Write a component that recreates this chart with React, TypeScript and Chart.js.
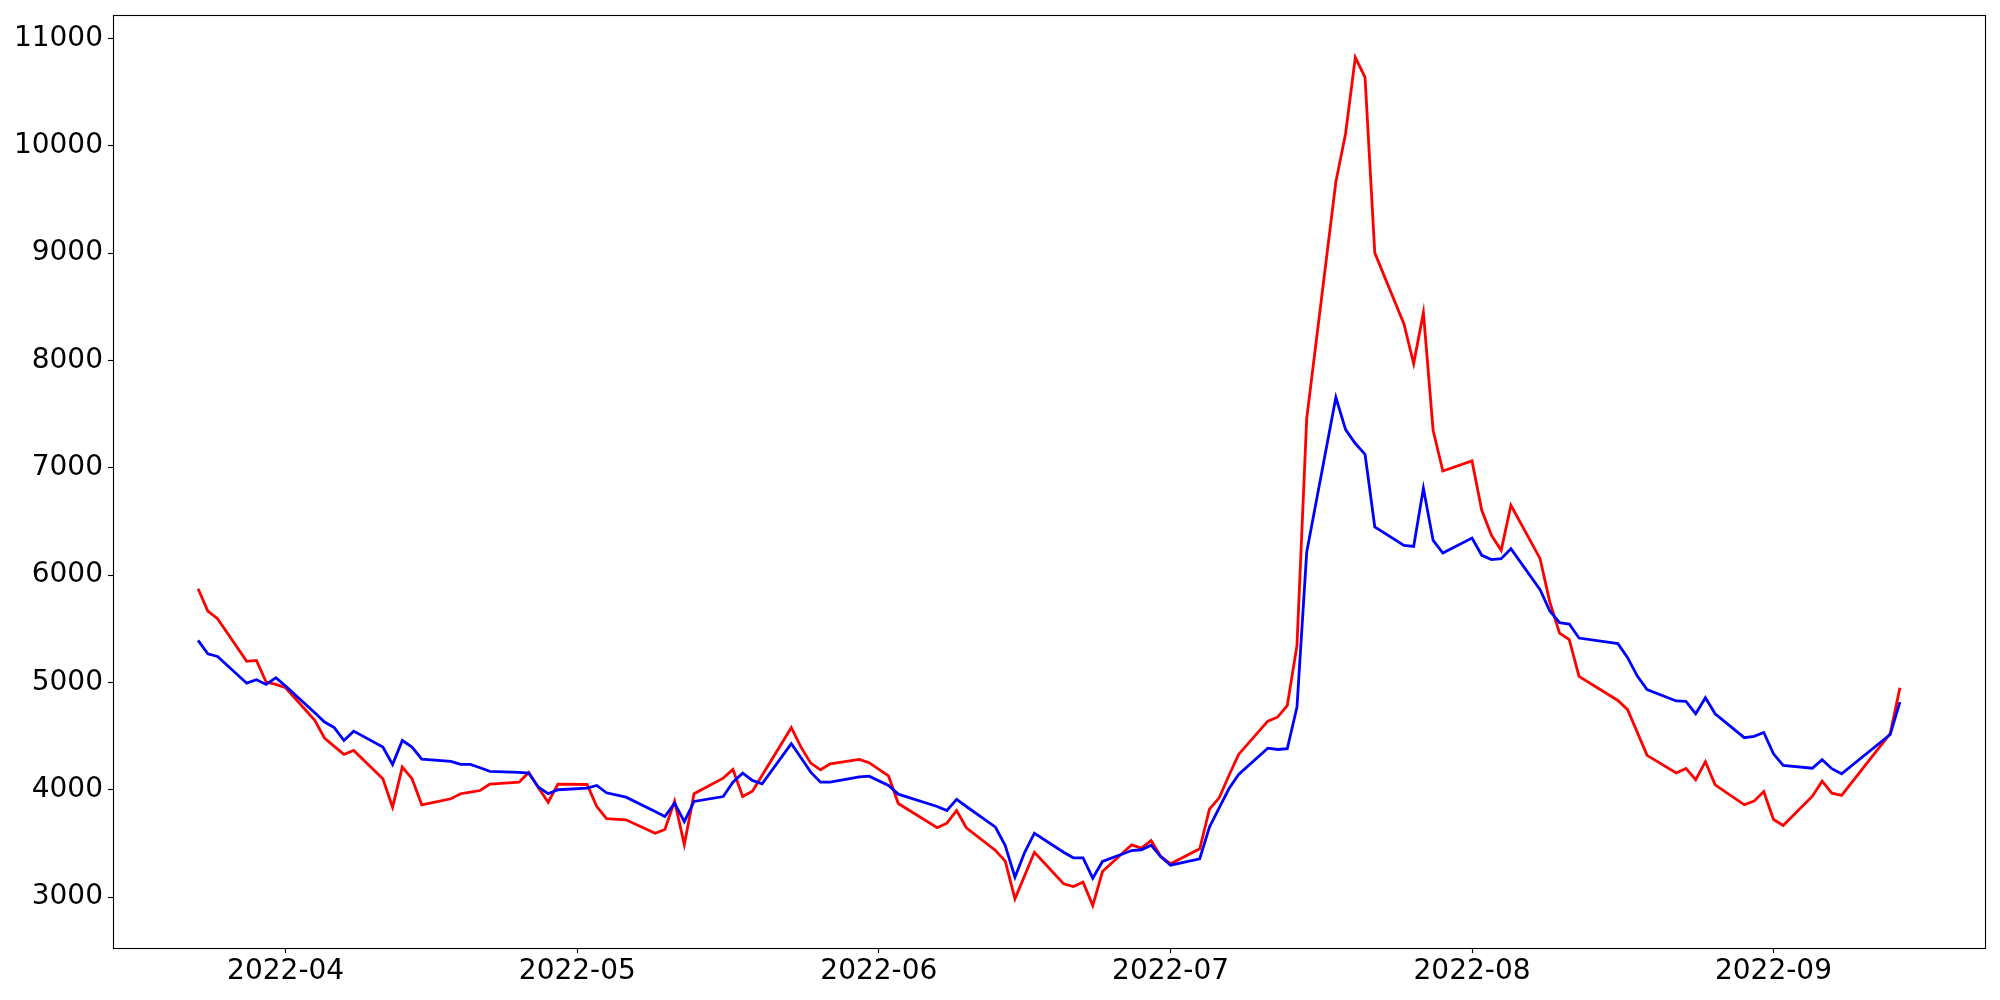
import React, { useEffect, useRef } from "react";
import { Chart, registerables } from "chart.js";

Chart.register(...registerables);

const dates: string[] = [
  "2022-03-23", "2022-03-24", "2022-03-25", "2022-03-28", "2022-03-29", "2022-03-30", "2022-03-31",
  "2022-04-01", "2022-04-04", "2022-04-05", "2022-04-06", "2022-04-07", "2022-04-08", "2022-04-11",
  "2022-04-12", "2022-04-13", "2022-04-14", "2022-04-15", "2022-04-18", "2022-04-19", "2022-04-20",
  "2022-04-21", "2022-04-22", "2022-04-25", "2022-04-26", "2022-04-27", "2022-04-28", "2022-04-29",
  "2022-05-02", "2022-05-03", "2022-05-04", "2022-05-06", "2022-05-09", "2022-05-10", "2022-05-11",
  "2022-05-12", "2022-05-13", "2022-05-16", "2022-05-17", "2022-05-18", "2022-05-19", "2022-05-20",
  "2022-05-23", "2022-05-24", "2022-05-25", "2022-05-26", "2022-05-27", "2022-05-30", "2022-05-31",
  "2022-06-02", "2022-06-03", "2022-06-07", "2022-06-08", "2022-06-09", "2022-06-10", "2022-06-13",
  "2022-06-14", "2022-06-15", "2022-06-16", "2022-06-17", "2022-06-20", "2022-06-21", "2022-06-22",
  "2022-06-23", "2022-06-24", "2022-06-27", "2022-06-28", "2022-06-29", "2022-06-30",
  "2022-07-01", "2022-07-04", "2022-07-05", "2022-07-06", "2022-07-07", "2022-07-08", "2022-07-11",
  "2022-07-12", "2022-07-13", "2022-07-14", "2022-07-15", "2022-07-18", "2022-07-19", "2022-07-20",
  "2022-07-21", "2022-07-22", "2022-07-25", "2022-07-26", "2022-07-27", "2022-07-28", "2022-07-29",
  "2022-08-01", "2022-08-02", "2022-08-03", "2022-08-04", "2022-08-05", "2022-08-08", "2022-08-09",
  "2022-08-10", "2022-08-11", "2022-08-12", "2022-08-16", "2022-08-17", "2022-08-18", "2022-08-19",
  "2022-08-22", "2022-08-23", "2022-08-24", "2022-08-25", "2022-08-26", "2022-08-29", "2022-08-30",
  "2022-08-31", "2022-09-01", "2022-09-02", "2022-09-05", "2022-09-06", "2022-09-07", "2022-09-08",
  "2022-09-13", "2022-09-14",
];

const redSeries: (number | null)[] = [
  5874, 5666, 5595, 5197, 5206, 5004, 4982,
  4951, 4647, 4482, 4405, 4330, 4367, 4104,
  3839, 4212, 4104, 3861, 3917, 3964, 3979,
  3994, 4053, 4072, 4162, 4020, 3885, 4053,
  4050, 3845, 3731, 3721, 3596, 3631, 3895,
  3491, 3964, 4109, 4190, 3938, 3988, null,
  4579, 4398, 4249, 4187, 4243, 4283, 4253,
  4130, 3873, 3647, 3690, 3808, 3647, 3435,
  3336, 2985, null, 3419, 3125, 3100, 3140,
  2922, 3239, 3488, 3457, 3528, 3380,
  3311, 3451, 3820, 3926, 4134, 4330, 4640,
  4677, 4784, 5346, 7458, 9664, 10115, 10823,
  10637, 9002, 8340, 7971, 8445, 7350, 6970,
  7064, 6604, 6371, 6231, 6651, 6154, 5749,
  5460, 5399, 5057, 4833, 4747, null, 4321,
  4158, 4200, 4094, 4263, 4047, 3861, 3895,
  3985, 3724, 3668, 3941, 4081, 3969, 3948,
  4523, 4952,
];

const blueSeries: (number | null)[] = [
  5392, 5268, 5243, 4994, 5026, 4982, 5045,
  4966, 4719, 4632, 4580, 4460, 4547, 4398,
  4237, 4460, 4398, 4286, 4265, 4237, 4237,
  4206, 4172, 4163, 4156, 4025, 3964, 4001,
  4016, 4041, 3973, 3932, 3799, 3752, 3876,
  3705, 3892, 3938, 4072, 4156, 4088, 4057,
  4430, 4299, 4165, 4072, 4072, 4122, 4128,
  4041, 3960, 3845, 3808, 3911, 3845, 3652,
  3482, 3186, 3419, 3596, 3419, 3367, 3367,
  3177, 3333, 3435, 3442, 3485, 3376,
  3298, 3358, 3653, 3833, 4010, 4143, 4389,
  4376, 4383, 4771, 6215, 7655, 7356, 7226,
  7126, 6449, 6278, 6268, 6810, 6324, 6206,
  6346, 6185, 6145, 6154, 6247, 5865, 5666,
  5557, 5545, 5414, 5362, 5231, 5060, 4935,
  4828, 4824, 4709, 4858, 4709, 4486, 4498,
  4535, 4336, 4227, 4202, 4281, 4197, 4150,
  4516, 4817,
];

const xTickDates: string[] = ["2022-04-01", "2022-05-01", "2022-06-01", "2022-07-01", "2022-08-01", "2022-09-01"];
const xTickLabels: string[] = ["2022-04", "2022-05", "2022-06", "2022-07", "2022-08", "2022-09"];
const yTickValues: number[] = [3000, 4000, 5000, 6000, 7000, 8000, 9000, 10000, 11000];

const toMs = (s: string) => {
  const [y, m, d] = s.split("-").map(Number);
  return Date.UTC(y, m - 1, d);
};

const framePlugin = {
  id: "frame",
  afterDraw(chart: any) {
    const { ctx, chartArea } = chart;
    ctx.save();
    ctx.strokeStyle = "#000";
    ctx.lineWidth = 1.1;
    ctx.strokeRect(
      Math.round(chartArea.left) + 0.5,
      Math.round(chartArea.top) + 0.5,
      Math.round(chartArea.right - chartArea.left),
      Math.round(chartArea.bottom - chartArea.top)
    );
    ctx.restore();
  },
};

export default function App() {
  const ref = useRef<HTMLCanvasElement | null>(null);

  useEffect(() => {
    if (!ref.current) return;
    const xs = dates.map(toMs);
    const xMinD = xs[0];
    const xMaxD = xs[xs.length - 1];
    const xPad = (xMaxD - xMinD) * 0.05;
    const allVals = [...redSeries, ...blueSeries].filter((v) => v !== null) as number[];
    const yMinD = Math.min(...allVals);
    const yMaxD = Math.max(...allVals);
    const yPad = (yMaxD - yMinD) * 0.05;
    const xTicks = xTickDates.map(toMs);

    const font = { family: "'DejaVu Sans', sans-serif", size: 28 };

    const chart = new Chart(ref.current, {
      type: "line",
      data: {
        datasets: [
          {
            label: "blue",
            data: xs.map((x, i) => ({ x, y: blueSeries[i] })),
            borderColor: "#0000ff",
            borderWidth: 2.8,
            pointRadius: 0,
            tension: 0,
            spanGaps: true,
            fill: false,
          },
          {
            label: "red",
            data: xs.map((x, i) => ({ x, y: redSeries[i] })),
            borderColor: "#ff0000",
            borderWidth: 2.8,
            pointRadius: 0,
            tension: 0,
            spanGaps: true,
            fill: false,
          },
        ],
      },
      options: {
        animation: false,
        responsive: false,
        maintainAspectRatio: false,
        layout: { padding: { left: 0, right: 15, top: 15, bottom: 0 } },
        plugins: { legend: { display: false }, tooltip: { enabled: false }, title: { display: false } },
        scales: {
          x: {
            type: "linear",
            min: xMinD - xPad,
            max: xMaxD + xPad,
            afterBuildTicks: (s: any) => {
              s.ticks = xTicks.map((v) => ({ value: v }));
            },
            afterFit: (s: any) => {
              s.height = 52;
              s.paddingLeft = 0;
              s.paddingRight = 0;
            },
            ticks: {
              autoSkip: false,
              maxRotation: 0,
              minRotation: 0,
              padding: 2,
              color: "#000",
              font,
              callback: (v: any) => {
                const i = xTicks.indexOf(Number(v));
                return i >= 0 ? xTickLabels[i] : "";
              },
            },
            grid: { drawOnChartArea: false, drawTicks: true, tickLength: 5, tickColor: "#000", tickWidth: 1.1 },
            border: { display: false },
          },
          y: {
            type: "linear",
            min: yMinD - yPad,
            max: yMaxD + yPad,
            afterBuildTicks: (s: any) => {
              s.ticks = yTickValues.map((v) => ({ value: v }));
            },
            afterFit: (s: any) => {
              s.width = 113;
              s.paddingTop = 0;
              s.paddingBottom = 0;
            },
            ticks: {
              autoSkip: false,
              padding: 5,
              color: "#000",
              font,
              callback: (v: any) => String(v),
            },
            grid: { drawOnChartArea: false, drawTicks: true, tickLength: 5, tickColor: "#000", tickWidth: 1.1 },
            border: { display: false },
          },
        },
      },
      plugins: [framePlugin],
    } as any);

    return () => chart.destroy();
  }, []);

  return (
    <div style={{ position: "absolute", left: 0, top: 0, width: 2000, height: 1000, background: "#fff" }}>
      <canvas ref={ref} width={2000} height={1000} style={{ width: 2000, height: 1000, display: "block" }} />
    </div>
  );
}
